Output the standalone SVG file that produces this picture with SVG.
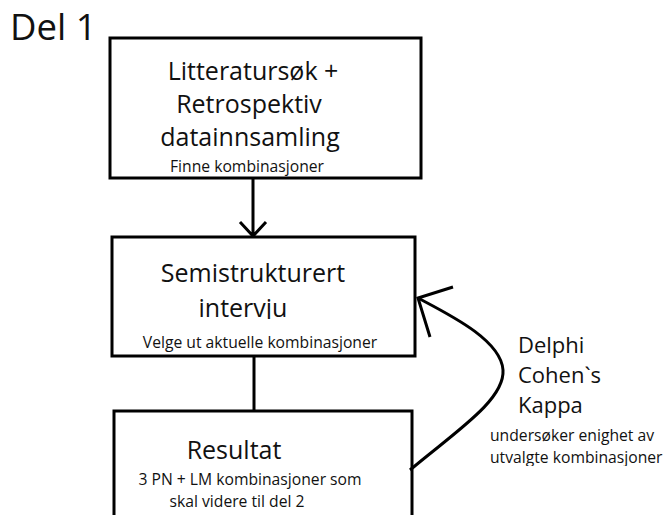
<svg xmlns="http://www.w3.org/2000/svg" width="667" height="515" viewBox="0 0 667 515">
<style>
.box{fill:#fff;stroke:#000;stroke-width:3}
.ln{fill:none;stroke:#000;stroke-width:3}
text{font-family:"Open Sans","Noto Sans","Liberation Sans",sans-serif;fill:#111}
.big{font-size:25px}
.rt{font-size:22px}
.sm{font-size:15.7px}
.mid{text-anchor:middle}
</style>
<defs>
<clipPath id="c1"><rect x="150" y="290" width="200" height="29"/></clipPath>
<clipPath id="c2"><rect x="480" y="445" width="187" height="21"/></clipPath>
</defs>
<rect width="667" height="515" fill="#fff"/>
<text x="10" y="40" style="font-size:36.5px">Del 1</text>
<g id="litteratur">
<rect class="box" x="110" y="38" width="311" height="140"/>
<text class="big mid" x="253" y="80">Litteratursøk +</text>
<text class="big mid" x="249" y="113">Retrospektiv</text>
<text class="big mid" x="250" y="146">datainnsamling</text>
<text class="sm mid" x="247" y="172">Finne kombinasjoner</text>
</g>
<g id="intervju">
<rect class="box" x="112" y="237" width="303" height="119"/>
<text class="big mid" x="253" y="282">Semistrukturert</text>
<text class="big mid" x="243" y="317" clip-path="url(#c1)">intervju</text>
<text class="sm mid" x="260" y="348">Velge ut aktuelle kombinasjoner</text>
</g>
<g id="resultat">
<rect class="box" x="114" y="411" width="298" height="110"/>
<text class="big mid" x="234" y="459">Resultat</text>
<text class="sm mid" x="250" y="485">3 PN + LM kombinasjoner som</text>
<text class="sm mid" x="237" y="507">skal videre til del 2</text>
</g>
<g id="delphi">
<text class="rt" x="518" y="353">Delphi</text>
<text class="rt" x="518" y="383">Cohen`s</text>
<text class="rt" x="518" y="413">Kappa</text>
<text class="sm" x="490" y="441">undersøker enighet av</text>
<text class="sm" x="490" y="463" clip-path="url(#c2)">utvalgte kombinasjoner</text>
</g>
<g id="connectors">
<path class="ln" d="M253 178 V236 M240 222 L253 236 L266 222"/>
<path class="ln" d="M254 356 V411"/>
<path class="ln" d="M410 470 C455 432 505 400 503 370 C501 340 450 315 418 298"/>
<path class="ln" d="M453 287 L418 298 L430 337"/>
</g>
</svg>
